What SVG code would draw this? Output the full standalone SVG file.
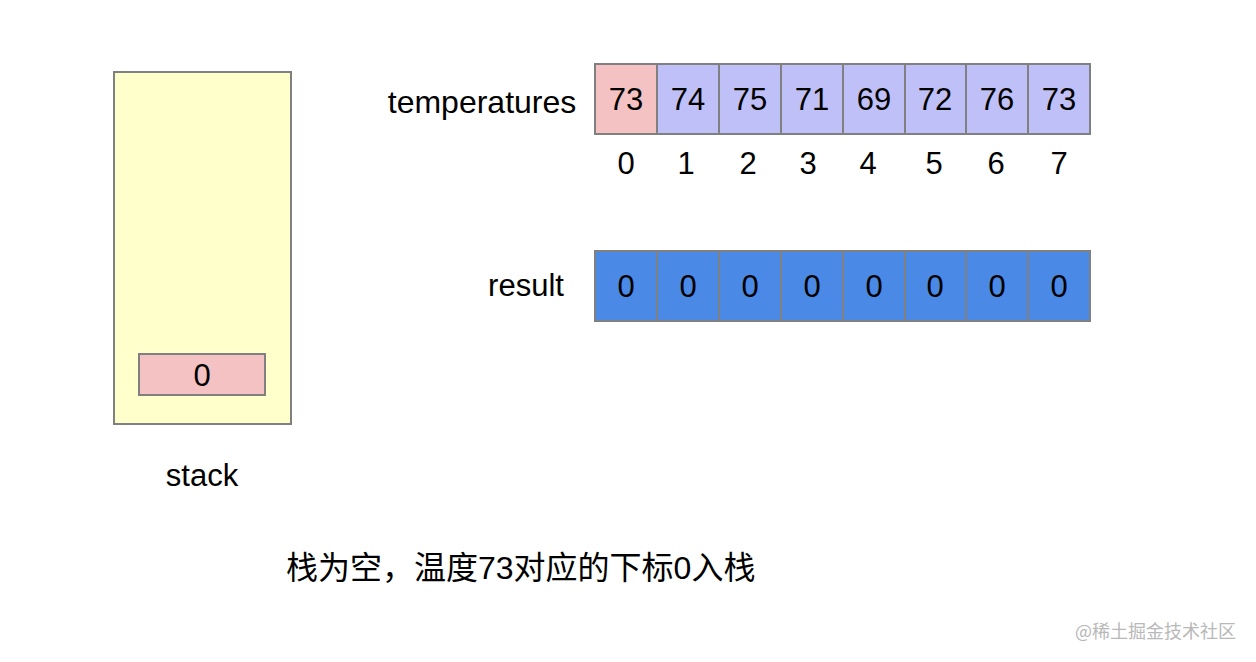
<svg xmlns="http://www.w3.org/2000/svg" width="1256" height="662" viewBox="0 0 1256 662">
<style>
.t{font-family:"Liberation Sans",Arial,"Noto Sans CJK SC",sans-serif;font-size:31px;fill:#000;text-anchor:middle}
.cn{font-family:"Liberation Sans","Noto Sans CJK SC",sans-serif;font-size:32px;fill:#000}
.s{stroke:#808080;stroke-width:2}
.tc{fill:#c0c0f8}
.pk{fill:#f4c2c2}
.rc{fill:#4a8ae6}
</style>
<rect width="1256" height="662" fill="#fff"/>
<g id="stack">
<rect x="114" y="72" width="177" height="352" fill="#ffffcc" class="s"/>
<rect x="139" y="354" width="126" height="41" class="pk s"/>
<text class="t" x="202" y="386">0</text>
<text class="t" x="202" y="486">stack</text>
</g>
<g id="temperatures">
<text class="t" x="482" y="113" style="font-size:32px">temperatures</text>
<rect x="595" y="64" width="62" height="70" class="pk s"/>
<rect x="657" y="64" width="62" height="70" class="tc s"/>
<rect x="719" y="64" width="62" height="70" class="tc s"/>
<rect x="781" y="64" width="62" height="70" class="tc s"/>
<rect x="843" y="64" width="62" height="70" class="tc s"/>
<rect x="905" y="64" width="61" height="70" class="tc s"/>
<rect x="966" y="64" width="62" height="70" class="tc s"/>
<rect x="1028" y="64" width="62" height="70" class="tc s"/>
<text class="t" x="626" y="110">73</text>
<text class="t" x="688" y="110">74</text>
<text class="t" x="750" y="110">75</text>
<text class="t" x="812" y="110">71</text>
<text class="t" x="874" y="110">69</text>
<text class="t" x="935" y="110">72</text>
<text class="t" x="997" y="110">76</text>
<text class="t" x="1059" y="110">73</text>
<text class="t" x="626" y="174">0</text>
<text class="t" x="686" y="174">1</text>
<text class="t" x="748" y="174">2</text>
<text class="t" x="808" y="174">3</text>
<text class="t" x="868" y="174">4</text>
<text class="t" x="934" y="174">5</text>
<text class="t" x="996" y="174">6</text>
<text class="t" x="1059" y="174">7</text>
</g>
<g id="result">
<text class="t" x="526" y="296">result</text>
<rect x="595" y="251" width="62" height="70" class="rc s"/>
<rect x="657" y="251" width="62" height="70" class="rc s"/>
<rect x="719" y="251" width="62" height="70" class="rc s"/>
<rect x="781" y="251" width="62" height="70" class="rc s"/>
<rect x="843" y="251" width="62" height="70" class="rc s"/>
<rect x="905" y="251" width="61" height="70" class="rc s"/>
<rect x="966" y="251" width="62" height="70" class="rc s"/>
<rect x="1028" y="251" width="62" height="70" class="rc s"/>
<text class="t" x="626" y="297">0</text>
<text class="t" x="688" y="297">0</text>
<text class="t" x="750" y="297">0</text>
<text class="t" x="812" y="297">0</text>
<text class="t" x="874" y="297">0</text>
<text class="t" x="935" y="297">0</text>
<text class="t" x="997" y="297">0</text>
<text class="t" x="1059" y="297">0</text>
</g>
<g id="connectors"></g>
<text class="cn" x="286" y="579">栈为空，温度73对应的下标0入栈</text>
<text x="1075" y="638" style="font-family:'Noto Sans CJK SC',sans-serif;font-size:18px;fill:#b8b8b8">@稀土掘金技术社区</text>
</svg>
